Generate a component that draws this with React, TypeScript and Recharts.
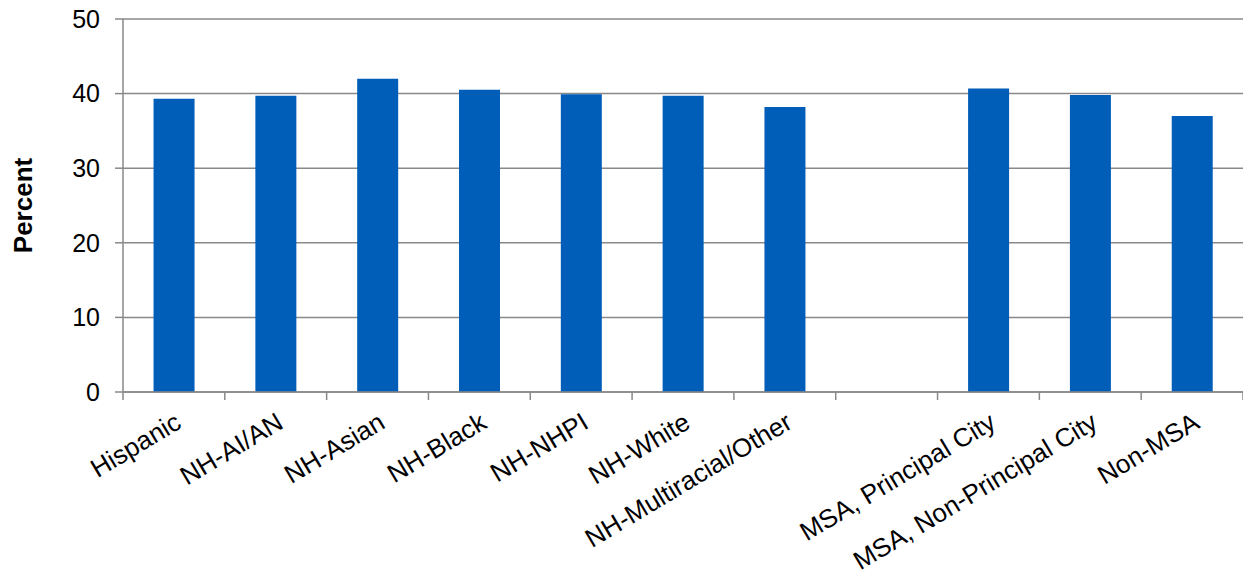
import { BarChart, Bar, XAxis, YAxis, CartesianGrid } from 'recharts'

const categories = [
  'Hispanic',
  'NH-AI/AN',
  'NH-Asian',
  'NH-Black',
  'NH-NHPI',
  'NH-White',
  'NH-Multiracial/Other',
  '',
  'MSA, Principal City',
  'MSA, Non-Principal City',
  'Non-MSA',
]
const percents: (number | null)[] = [39.3, 39.7, 42.0, 40.5, 39.9, 39.7, 38.2, null, 40.7, 39.8, 37.0]
const yTicks = [0, 10, 20, 30, 40, 50]

const data = categories.map((name, i) => ({ name, value: percents[i] }))

const W = 1243
const H = 575
const TOP = 19
const Y_W = 123
const X_H = 183
const PLOT_W = W - Y_W
const BASE = H - X_H
const SLOT = PLOT_W / categories.length
const AXIS_GRAY = '#898989'
const FONT = '"Liberation Sans", Arial, sans-serif'

const CategoryTick = ({ x, payload, index }: any) => {
  const last = index === categories.length - 1
  return (
    <g>
      <line x1={x - SLOT / 2} x2={x - SLOT / 2} y1={BASE} y2={BASE + 8} stroke={AXIS_GRAY} strokeWidth={1.5} />
      {last && (
        <line x1={x + SLOT / 2} x2={x + SLOT / 2} y1={BASE} y2={BASE + 8} stroke={AXIS_GRAY} strokeWidth={1.5} />
      )}
      <text
        transform={`translate(${x + 9},${BASE + 35}) rotate(-31)`}
        textAnchor="end"
        fontSize={26}
        fontFamily={FONT}
        fill="#000"
      >
        {payload.value}
      </text>
    </g>
  )
}

const PercentLabel = () => (
  <text
    x={23}
    y={TOP + (BASE - TOP) / 2}
    transform={`rotate(-90, 23, ${TOP + (BASE - TOP) / 2})`}
    textAnchor="middle"
    dominantBaseline="central"
    fontSize={26}
    fontWeight="bold"
    fontFamily={FONT}
    fill="#000"
  >
    Percent
  </text>
)

export default function App() {
  return (
    <div style={{ position: 'absolute', left: 0, top: 0, width: W, height: H, background: '#fff' }}>
      <BarChart
        width={W}
        height={H}
        data={data}
        margin={{ top: TOP, right: 0, left: 0, bottom: 0 }}
        barCategoryGap="30%"
      >
        <CartesianGrid vertical={false} stroke={AXIS_GRAY} strokeWidth={1.5} />
        <XAxis
          dataKey="name"
          height={X_H}
          interval={0}
          tickLine={false}
          stroke={AXIS_GRAY}
          strokeWidth={1.5}
          tick={<CategoryTick />}
        />
        <YAxis
          width={Y_W}
          domain={[0, 50]}
          ticks={yTicks}
          tickSize={8}
          tickMargin={15}
          stroke={AXIS_GRAY}
          strokeWidth={1.5}
          tick={{ fill: '#000', fontSize: 25, fontFamily: FONT }}
          label={<PercentLabel />}
        />
        <Bar dataKey="value" fill="#005EB8" isAnimationActive={false} />
      </BarChart>
    </div>
  )
}
